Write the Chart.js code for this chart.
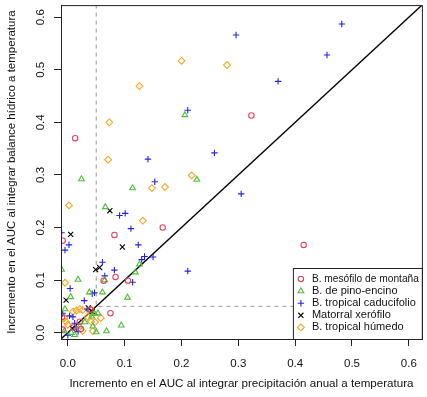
<!DOCTYPE html>
<html>
<head>
<meta charset="utf-8">
<script src="https://cdn.jsdelivr.net/npm/chart.js@4"></script>
<style>
    body { margin: 0; background: #fff; }
</style>
</head>
<body>
<canvas id="chart" width="427" height="397"></canvas>
<script>
// ticks on both axes
const tickValues = [0, 0.1, 0.2, 0.3, 0.4, 0.5, 0.6];

// B. mesófilo de montaña
const mesofiloX = [0.013, 0.323, 0.167, 0.082, -0.009, 0.084, 0.063, 0.106, 0.415, 0.075, -0.009, 0.023, 0.021, 0.040, -0.010, 0.010];
const mesofiloY = [0.370, 0.413, 0.200, 0.186, 0.175, 0.106, 0.099, 0.099, 0.167, 0.037, 0.006, 0.007, 0.021, 0.044, 0.030, 0.010];

// B. de pino-encino
const pinoX = [0.024, 0.206, 0.227, 0.114, 0.066, 0.126, 0.119, -0.011, 0.065, 0.018, 0.038, 0.061, 0.005, 0.105, -0.005, 0.094, 0.068, 0.053, 0.044, 0.050, -0.006, 0.006, 0.012, 0.021, 0.042, 0.030, 0.047];
const pinoY = [0.292, 0.414, 0.291, 0.275, 0.239, 0.130, 0.115, 0.120, 0.100, 0.101, 0.077, 0.077, 0.068, 0.067, 0.045, 0.014, 0.003, 0.037, 0.012, 0.001, 0.003, 0.000, -0.004, 0.012, 0.031, 0.020, 0.036];

// B. tropical caducifolio
const caduX = [0.296, 0.482, 0.456, 0.370, 0.211, 0.258, 0.141, 0.153, 0.091, 0.101, 0.111, -0.011, 0.002, -0.005, 0.124, 0.135, 0.130, 0.150, 0.211, 0.061, 0.082, 0.065, 0.114, 0.004, 0.043, 0.047, 0.029, 0.305, 0.034, 0.003, 0.009, 0.012, 0.015, -0.009, 0.000, 0.018];
const caduY = [0.566, 0.587, 0.528, 0.478, 0.423, 0.342, 0.330, 0.287, 0.223, 0.227, 0.198, 0.190, 0.167, 0.157, 0.167, 0.145, 0.139, 0.144, 0.117, 0.134, 0.119, 0.108, 0.096, 0.084, 0.074, 0.076, 0.061, 0.264, 0.045, 0.032, 0.030, 0.018, 0.009, 0.037, -0.005, 0.002];

// Matorral xerófilo
const matorralX = [0.074, 0.005, 0.096, 0.049, 0.056, -0.003, 0.036, 0.043, 0.008];
const matorralY = [0.232, 0.187, 0.163, 0.120, 0.124, 0.062, 0.047, 0.040, 0.008];

// B. tropical húmedo
const humedoX = [0.200, 0.280, 0.126, 0.073, 0.071, 0.218, 0.148, 0.171, 0.002, 0.132, -0.005, 0.009, 0.015, 0.021, 0.026, 0.041, 0.041, 0.058, 0.041, 0.044, -0.003, 0.000, 0.026, -0.006, 0.035, 0.048];
const humedoY = [0.517, 0.509, 0.469, 0.400, 0.329, 0.299, 0.275, 0.277, 0.242, 0.213, 0.095, 0.040, 0.042, 0.045, 0.043, 0.043, 0.037, 0.028, 0.021, 0.003, 0.021, 0.015, 0.003, 0.028, 0.030, 0.020];

// reference lines: 1:1 line and the 0.05 threshold
const diagX = [-0.1, 0.7];
const diagY = [-0.1, 0.7];
const cutX = [0.05, 0.05, 0.7];
const cutY = [0.7, 0.05, 0.05];

function toPoints(xs, ys) {
    return xs.map((x, i) => ({ x: x, y: ys[i] }));
}

Chart.defaults.font.family = "'Liberation Sans', Arial, sans-serif";
Chart.defaults.font.size = 11.5;

function series(label, xs, ys, color, style, radius) {
    return {
        label: label,
        legend: true,
        data: toPoints(xs, ys),
        borderColor: color,
        backgroundColor: "rgba(0,0,0,0)",
        pointStyle: style,
        pointRadius: radius,
        borderWidth: 1.1,
    };
}

// legend box in the bottom right corner, like R's legend("bottomright")
const boxLegend = {
    id: "boxLegend",
    afterDatasetsDraw(chart) {
        const ctx = chart.ctx;
        const area = chart.chartArea;
        const items = chart.data.datasets.filter(d => d.legend);
        const w = 129, h = 71;
        const x0 = area.right - w, y0 = area.bottom - h;
        ctx.save();
        ctx.fillStyle = "#fff";
        ctx.fillRect(x0, y0, w, h);
        ctx.strokeStyle = "#222";
        ctx.lineWidth = 1;
        ctx.strokeRect(x0 + 0.5, y0 + 0.5, w, h);
        ctx.font = "11px 'Liberation Sans', Arial, sans-serif";
        ctx.textBaseline = "middle";
        items.forEach((d, i) => {
            const y = y0 + 11 + i * 12.1;
            ctx.strokeStyle = d.borderColor;
            ctx.fillStyle = "rgba(0,0,0,0)";
            ctx.lineWidth = 1.1;
            Chart.helpers.drawPoint(ctx, { pointStyle: d.pointStyle, radius: d.pointRadius, borderWidth: 1.1, rotation: 0 }, x0 + 8, y);
            ctx.fillStyle = "#111";
            ctx.fillText(d.label, x0 + 19, y, w - 22);
        });
        ctx.restore();
    },
    afterDraw(chart) {
        // full box around the plot region
        const ctx = chart.ctx;
        const a = chart.chartArea;
        ctx.save();
        ctx.strokeStyle = "#222";
        ctx.lineWidth = 1;
        ctx.strokeRect(a.left + 0.5, a.top + 0.5, a.right - a.left, a.bottom - a.top);
        ctx.restore();
    }
};

function noPadding(s) {
    s.paddingTop = 0; s.paddingBottom = 0;
    s.paddingLeft = 0; s.paddingRight = 0;
}

new Chart(document.getElementById("chart"), {
    type: "scatter",
    data: {
        datasets: [
            series("B. mesófilo de montaña", mesofiloX, mesofiloY, "#E0455E", "circle", 2.7),
            series("B. de pino-encino", pinoX, pinoY, "#4DBE3A", "triangle", 3.3),
            series("B. tropical caducifolio", caduX, caduY, "#2424E6", "cross", 3.2),
            series("Matorral xerófilo", matorralX, matorralY, "#000000", "crossRot", 3.6),
            series("B. tropical húmedo", humedoX, humedoY, "#F5A623", "rectRot", 3.4),
            {
                label: "diag", data: toPoints(diagX, diagY), showLine: true,
                borderColor: "#000", borderWidth: 1.3, pointRadius: 0,
            },
            {
                label: "cut", data: toPoints(cutX, cutY), showLine: true,
                borderColor: "#999", borderWidth: 1, borderDash: [4, 4], pointRadius: 0,
            },
        ],
    },
    options: {
        responsive: false,
        animation: false,
        events: [],
        layout: { padding: { top: 3, right: 4, left: 0, bottom: 0 } },
        plugins: { legend: { display: false }, tooltip: { enabled: false } },
        scales: {
            x: {
                type: "linear", min: -0.012, max: 0.623,
                afterBuildTicks: s => { s.ticks = tickValues.map(v => ({ value: v })); },
                afterFit: s => { s.height = 58; noPadding(s); },
                grid: { drawOnChartArea: false, tickLength: 7, tickColor: "#222" },
                border: { color: "#222" },
                ticks: { padding: 11, color: "#111", maxRotation: 0, callback: v => v.toFixed(1) },
                title: {
                    display: true, color: "#111", font: { size: 11.6 },
                    text: "Incremento en el AUC al integrar precipitación anual a temperatura",
                    padding: { top: 0, bottom: 6 },
                },
            },
            y: {
                type: "linear", min: -0.012, max: 0.623,
                afterBuildTicks: s => { s.ticks = tickValues.map(v => ({ value: v })); },
                afterFit: s => { s.width = 61; noPadding(s); },
                grid: { drawOnChartArea: false, tickLength: 7, tickColor: "#222" },
                border: { color: "#222" },
                ticks: {
                    padding: 5, color: "#111", minRotation: 90, maxRotation: 90,
                    crossAlign: "center", callback: v => v.toFixed(1),
                },
                title: {
                    display: true, color: "#111", font: { size: 11.5 },
                    text: "Incremento en el AUC al integrar balance hídrico a temperatura",
                    padding: { top: 5, bottom: 0 },
                },
            },
        },
    },
    plugins: [boxLegend],
});
</script>
</body>
</html>
